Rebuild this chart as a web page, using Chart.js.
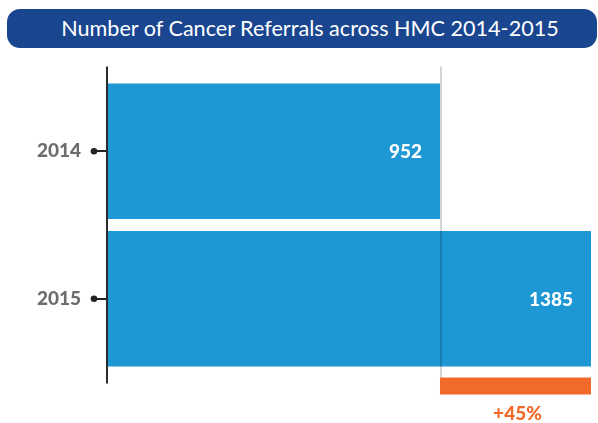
<!DOCTYPE html>
<html>
<head>
<meta charset="utf-8">
<script src="https://cdn.jsdelivr.net/npm/chart.js@4.4.1/dist/chart.umd.min.js"></script>
<style>
  html, body { margin: 0; padding: 0; background: #fff; }
  #wrap { position: relative; width: 598px; height: 423px; }
  #banner {
    position: absolute; left: 7px; top: 9px; width: 590px; height: 39px;
    background: #1a4690; border-radius: 13px; color: #fff;
    font: 21.6px Lato, sans-serif; text-align: center; line-height: 39px;
    text-indent: 16px;
  }
</style>
</head>
<body>
<div id="wrap">
  <canvas id="chart" width="598" height="423"></canvas>
  <div id="banner">Number of Cancer Referrals across HMC 2014-2015</div>
</div>
<script>
// data
const years = ['2014', '2015']
const referrals = [952, 1385]
const changeLabel = '+' + Math.round((referrals[1] - referrals[0]) / referrals[0] * 100) + '%'

const blue = '#1e98d4'
const orange = '#f26a2a'

// value labels, axis line, change marker
const extras = {
  id: 'extras',
  afterDatasetsDraw (chart) {
    const ctx = chart.ctx
    const area = chart.chartArea
    const xs = chart.scales.x
    const ys = chart.scales.y
    const meta = chart.getDatasetMeta(0)

    ctx.save()
    // values inside bars
    ctx.fillStyle = '#fff'
    ctx.font = '900 19px Lato, sans-serif'
    ctx.textAlign = 'right'
    ctx.textBaseline = 'middle'
    meta.data.forEach((bar, i) => {
      ctx.fillText(referrals[i], bar.x - 18, bar.y + 1)
    })

    // grey marker at 2014 value
    const x0 = xs.getPixelForValue(referrals[0])
    const x1 = xs.getPixelForValue(referrals[1])
    ctx.fillStyle = 'rgba(0,0,0,0.17)'
    ctx.fillRect(x0, area.top - 11, 2, area.bottom - area.top + 16)

    // change bar + label
    ctx.fillStyle = orange
    ctx.fillRect(x0, area.bottom + 5, x1 - x0, 17)
    ctx.font = '900 19px Lato, sans-serif'
    ctx.textAlign = 'center'
    ctx.fillText(changeLabel, (x0 + x1) / 2 + 2, area.bottom + 41)

    // axis line
    ctx.fillStyle = '#2b2b2b'
    ctx.fillRect(area.left - 2, area.top - 11, 2, area.bottom - area.top + 22)

    // dots on ticks
    ys.ticks.forEach((t, i) => {
      const y = ys.getPixelForTick(i)
      ctx.beginPath()
      ctx.arc(area.left - 14, y, 3.3, 0, Math.PI * 2)
      ctx.fillStyle = '#222'
      ctx.fill()
    })
    ctx.restore()
  }
}

new Chart(document.getElementById('chart'), {
  type: 'bar',
  data: {
    labels: years,
    datasets: [{
      data: referrals,
      backgroundColor: blue,
      categoryPercentage: 1,
      barPercentage: 0.919
    }]
  },
  options: {
    indexAxis: 'y',
    responsive: false,
    animation: false,
    layout: { padding: { top: 77.5, bottom: 50.5, right: 7, left: 0 } },
    plugins: { legend: { display: false }, tooltip: { enabled: false } },
    scales: {
      x: { display: false, min: 0, max: 1385 },
      y: {
        afterFit (scale) { scale.width = 108 },
        border: { display: false },
        grid: {
          offset: false,
          drawOnChartArea: false,
          drawTicks: true,
          tickLength: 14,
          color: '#222',
          lineWidth: 2
        },
        ticks: {
          padding: 13,
          color: '#6d6d6d',
          font: { family: 'Lato', size: 19, weight: '900' }
        }
      }
    }
  },
  plugins: [extras]
})
</script>
</body>
</html>
